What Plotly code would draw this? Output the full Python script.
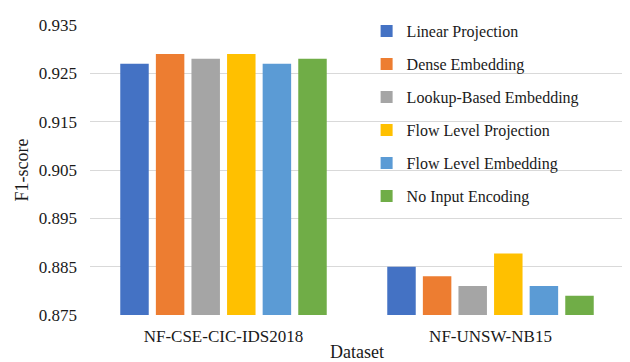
import plotly.graph_objects as go

categories = ["NF-CSE-CIC-IDS2018", "NF-UNSW-NB15"]
series_names = ["Linear Projection", "Dense Embedding", "Lookup-Based Embedding",
                "Flow Level Projection", "Flow Level Embedding", "No Input Encoding"]
linear_projection = [0.927, 0.885]
dense_embedding = [0.929, 0.883]
lookup_embedding = [0.928, 0.881]
flow_level_projection = [0.929, 0.8877]
flow_level_embedding = [0.927, 0.881]
no_input_encoding = [0.928, 0.879]
series_values = [linear_projection, dense_embedding, lookup_embedding,
                 flow_level_projection, flow_level_embedding, no_input_encoding]
colors = ["#4472C4", "#ED7D31", "#A5A5A5", "#FFC000", "#5B9BD5", "#70AD47"]
tick_vals = [0.875, 0.885, 0.895, 0.905, 0.915, 0.925, 0.935]

fig = go.Figure()
for i, (name, vals, c) in enumerate(zip(series_names, series_values, colors)):
    fig.add_trace(go.Bar(x=categories, y=vals, name=name, marker_color=c,
                         marker_line_width=0, legendgroup=f"g{i}"))

font = "Liberation Serif, Times New Roman, serif"
txt = "#1a1a1a"
fig.update_layout(
    width=622, height=354,
    margin=dict(l=82, r=6, t=11, b=47),
    paper_bgcolor="white", plot_bgcolor="white",
    barmode="group", bargap=0.2, bargroupgap=0.2,
    font=dict(family=font, size=16, color=txt),
    legend=dict(x=0.518, y=1.038, xanchor="left", yanchor="top",
                bgcolor="rgba(0,0,0,0)", font=dict(size=16, family=font, color=txt),
                tracegroupgap=9.2, itemwidth=30, maxheight=400),
    xaxis=dict(title=dict(text="Dataset", standoff=1, font=dict(size=18)),
               showline=False, ticks="", tickfont=dict(size=17),
               ticklabelstandoff=9, automargin=False),
    yaxis=dict(title=dict(text="F1-score", standoff=5, font=dict(size=18)),
               range=[0.875, 0.935], tickvals=tick_vals, tickformat=".3f",
               showgrid=True, gridcolor="#d9d9d9", gridwidth=1, zeroline=False,
               showline=False, tickfont=dict(size=17), ticklabelstandoff=12,
               automargin=False),
)
fig.write_html("out.html")
